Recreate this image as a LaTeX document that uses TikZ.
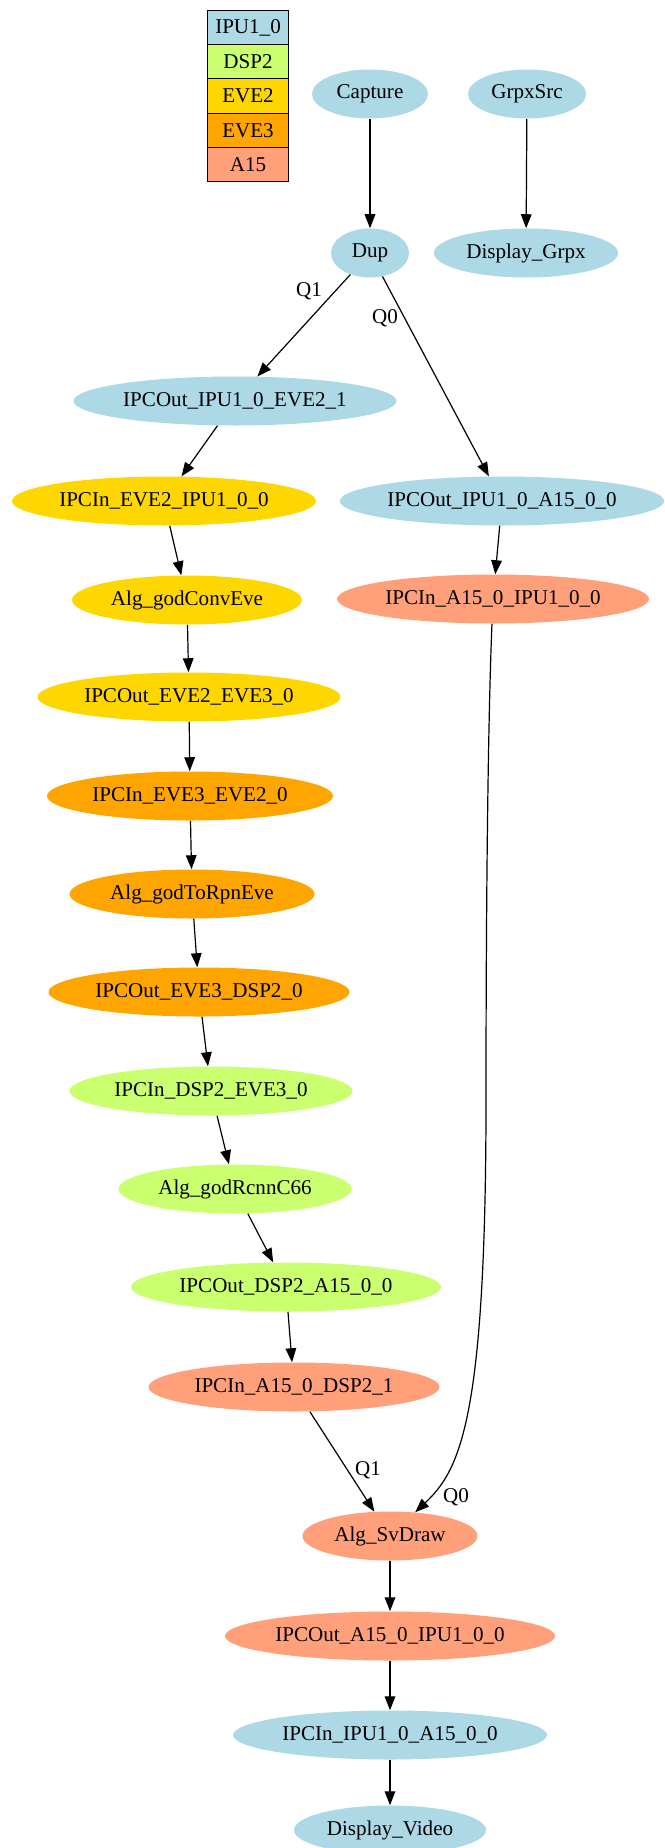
\documentclass[tikz,border=0pt]{standalone}
\usepackage{fontspec}
\setmainfont{Liberation Serif}
\usetikzlibrary{shapes.geometric,arrows.meta}

\definecolor{ipucol}{HTML}{ADD8E6}
\definecolor{dspcol}{HTML}{CAFF70}
\definecolor{evetwocol}{HTML}{FFD700}
\definecolor{evethreecol}{HTML}{FFA500}
\definecolor{acol}{HTML}{FFA07A}

\tikzset{
  ell/.style={ellipse, draw=none, inner sep=0pt, minimum height=36.75pt,
              font=\fontsize{15.8}{18}\selectfont},
  wd/.style={minimum width=#1*0.75pt},
  ipu/.style={ell, fill=ipucol},
  dsp/.style={ell, fill=dspcol},
  evetwo/.style={ell, fill=evetwocol},
  evethree/.style={ell, fill=evethreecol},
  afifteen/.style={ell, fill=acol},
  edge/.style={draw=black, line width=0.9pt,
               -{Triangle[length=10.5pt,width=8pt]}},
  lbl/.style={inner sep=0pt, font=\fontsize{15.8}{18}\selectfont},
  legcell/.style={draw=black, line width=0.8pt, minimum width=60.75pt,
                  minimum height=25.65pt, inner sep=0pt, anchor=north west,
                  font=\fontsize{15.8}{18}\selectfont}
}

\begin{document}
\begin{tikzpicture}[x=0.75pt,y=-0.75pt]
  \useasboundingbox (0,0) rectangle (664,1848);
  \clip (0,0) rectangle (664,1848);

  % core legend
  \node[legcell, fill=ipucol]      (legipu)   at (207,10)    {IPU1\_0};
  \node[legcell, fill=dspcol]      (legdsp)   at (207,44.2)  {DSP2};
  \node[legcell, fill=evetwocol]   (legevetwo) at (207,78.4) {EVE2};
  \node[legcell, fill=evethreecol] (legevethree) at (207,112.6) {EVE3};
  \node[legcell, fill=acol]        (legafifteen) at (207,146.8) {A15};

  % links
  \node[ipu, wd=116] (capture) at (370,94)  {Capture};
  \node[ipu, wd=118] (grpxsrc) at (527,94)  {GrpxSrc};
  \node[ipu, wd=78]  (dup)     at (370,253) {Dup};
  \node[ipu, wd=184] (dispgrpx) at (526,253) {Display\_Grpx};

  \node[ipu, wd=323] (outipueve) at (235,401) {IPCOut\_IPU1\_0\_EVE2\_1};
  \node[evetwo, wd=304] (ineveipu) at (164,501) {IPCIn\_EVE2\_IPU1\_0\_0};
  \node[ipu, wd=323] (outipua) at (502,501) {IPCOut\_IPU1\_0\_A15\_0\_0};
  \node[evetwo, wd=230] (convev) at (187,600) {Alg\_godConvEve};
  \node[afifteen, wd=312] (inaipu) at (493,599) {IPCIn\_A15\_0\_IPU1\_0\_0};
  \node[evetwo, wd=303] (outevetwo) at (189,697) {IPCOut\_EVE2\_EVE3\_0};
  \node[evethree, wd=286] (inevethree) at (190,796) {IPCIn\_EVE3\_EVE2\_0};
  \node[evethree, wd=245] (torpn) at (192,894) {Alg\_godToRpnEve};
  \node[evethree, wd=301] (outevethree) at (199,992) {IPCOut\_EVE3\_DSP2\_0};
  \node[dsp, wd=283] (indsp) at (211,1091) {IPCIn\_DSP2\_EVE3\_0};
  \node[dsp, wd=233] (rcnn) at (235,1189) {Alg\_godRcnnC66};
  \node[dsp, wd=310] (outdsp) at (286,1287) {IPCOut\_DSP2\_A15\_0\_0};
  \node[afifteen, wd=291] (inadsp) at (294,1387) {IPCIn\_A15\_0\_DSP2\_1};
  \node[afifteen, wd=175] (svdraw) at (390,1536) {Alg\_SvDraw};
  \node[afifteen, wd=330] (outaipu) at (390,1636) {IPCOut\_A15\_0\_IPU1\_0\_0};
  \node[ipu, wd=314] (inipua) at (390,1735) {IPCIn\_IPU1\_0\_A15\_0\_0};
  \node[ipu, wd=192] (dispvideo) at (390,1830) {Display\_Video};

  % queue labels
  \node[lbl] (qonetop)  at (309,291)  {Q1};
  \node[lbl] (qzerotop) at (385,318)  {Q0};
  \node[lbl] (qonebot)  at (368,1470) {Q1};
  \node[lbl] (qzerobot) at (456,1497) {Q0};

  % connections
  \draw[edge] (capture) -- (dup);
  \draw[edge] (grpxsrc) -- (dispgrpx);
  \draw[edge] (dup) -- (outipueve);
  \draw[edge] (dup) -- (outipua);
  \draw[edge] (outipueve) -- (ineveipu);
  \draw[edge] (outipua) -- (inaipu);
  \draw[edge] (ineveipu) -- (convev);
  \draw[edge] (convev) -- (outevetwo);
  \draw[edge] (outevetwo) -- (inevethree);
  \draw[edge] (inevethree) -- (torpn);
  \draw[edge] (torpn) -- (outevethree);
  \draw[edge] (outevethree) -- (indsp);
  \draw[edge] (indsp) -- (rcnn);
  \draw[edge] (rcnn) -- (outdsp);
  \draw[edge] (outdsp) -- (inadsp);
  \draw[edge] (inadsp) -- (svdraw);
  \draw[edge] (inaipu) .. controls (488,720) and (486,900) .. (486,1100)
                       .. controls (486,1420) and (460,1470) .. (svdraw);
  \draw[edge] (svdraw) -- (outaipu);
  \draw[edge] (outaipu) -- (inipua);
  \draw[edge] (inipua) -- (dispvideo);
\end{tikzpicture}
\end{document}
